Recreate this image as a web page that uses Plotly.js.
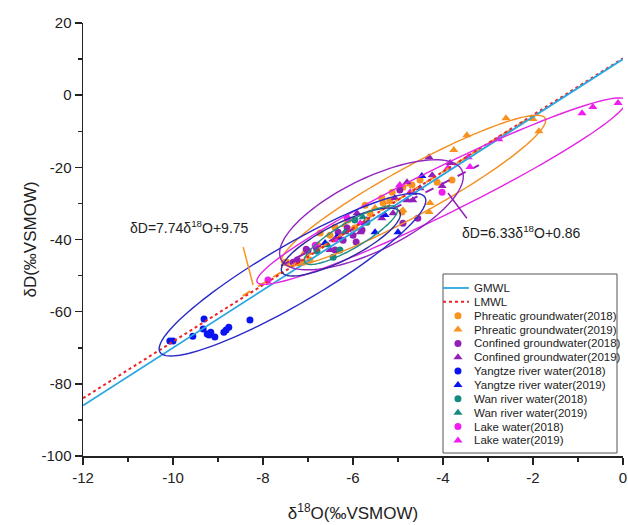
<!DOCTYPE html>
<html><head><meta charset="utf-8">
<script src="https://cdn.plot.ly/plotly-3.0.1.min.js"></script>
<style>html,body{margin:0;padding:0;background:#fff}#chart{width:628px;height:525px}</style>
</head><body><div id="chart"></div>
<script>
// ---- data (δ18O, δD in ‰ VSMOW) ----
const phreatic2018X = [-7.51,-7.47,-7.2,-7.11,-6.96,-6.78,-6.73,-6.51,-6.4,-6.11,-5.96,-5.73,-5.62,-5.36,-5.33,-5.18,-5.13,-4.96,-4.91,-4.89,-4.69,-4.51,-4.13,-3.8];
const phreatic2018Y = [-46.3,-46.3,-46.5,-46.3,-45.7,-41.6,-38.2,-38.8,-36.6,-34.6,-36.8,-30.5,-32.7,-28.5,-29.9,-29.1,-26.9,-25.5,-32.4,-25.5,-24.9,-23.5,-24.1,-23.5];
const phreatic2019X = [-2.6,-3.47,-2.0,-1.87,-3.76,-4.29,-4.31,-4.89,-4.73,-5.18,-7.07,-6.18,-5.51];
const phreatic2019Y = [-6.4,-11.1,-6.6,-10.0,-15.2,-29.9,-32.4,-31.9,-24.7,-29.6,-43.5,-36.0,-31.3];
const confined2018X = [-7.33,-7.24,-7.04,-7.0,-6.4,-6.22,-6.33,-6.0,-5.93,-5.8,-4.89,-4.56,-4.96,-6.13];
const confined2018Y = [-46.3,-45.7,-42.7,-43.2,-42.9,-40.2,-38.0,-38.8,-40.7,-37.4,-35.5,-34.1,-26.3,-36.8];
const confined2019X = [-6.51,-6.13,-5.84,-5.36,-5.11,-5.91,-5.07,-4.8,-4.67,-5.69,-4.31,-3.84,-4.24,-4.02,-4.51,-4.67,-4.8,-6.29];
const confined2019Y = [-42.9,-37.4,-38.0,-34.1,-32.7,-32.7,-28.5,-29.1,-29.1,-34.6,-17.2,-18.8,-22.2,-25.2,-25.8,-27.1,-24.1,-39.6];
const yangtze2018X = [-10.07,-10.0,-9.31,-9.33,-9.56,-9.24,-9.16,-9.2,-9.07,-8.87,-8.82,-8.76,-8.29];
const yangtze2018Y = [-68.1,-68.1,-62.0,-64.8,-66.8,-66.2,-65.7,-66.5,-67.0,-65.7,-65.1,-64.3,-62.3];
const yangtze2019X = [-6.62,-6.36,-5.51,-5.29,-5.0,-4.47];
const yangtze2019Y = [-41.0,-39.3,-38.0,-33.2,-38.0,-22.4];
const wan2018X = [-6.8,-6.44,-6.29,-5.96,-5.69];
const wan2018Y = [-43.2,-44.9,-42.9,-34.6,-35.2];
const wan2019X = [-6.56,-5.78,-6.18];
const wan2019Y = [-41.6,-33.8,-38.0];
const lake2018X = [-7.89,-4.02,-6.13,-6.84];
const lake2018Y = [-51.2,-26.9,-34.1,-41.6];
const lake2019X = [-0.91,-0.67,-0.11,-2.76,-3.44,-3.4,-3.89,-4.73,-5.84,-4.96,-6.4];
const lake2019Y = [-5.0,-3.3,-2.2,-12.2,-17.2,-19.9,-20.2,-26.9,-35.5,-24.9,-40.2];

// water lines (end points)
const lineX = [-12, 0];
const gmwlY = [-86, 10];
const lmwlY = [-84, 10.2];
const phreaticFitX = [-8.45, -2.0];
const phreaticFitY = [-55.65, -5.73];
const confinedFitX = [-7.6, -3.2];
const confinedFitY = [-47.25, -19.4];

// tick labels
const xTickVals = [-12,-10,-8,-6,-4,-2,0];
const xTickText = ["-12","-10","-8","-6","-4","-2","0"];
const yTickVals = [-100,-80,-60,-40,-20,0,20];
const yTickText = ["-100","-80","-60","-40","-20","0","20"];

const seriesNames = ["Phreatic groundwater(2018)","Phreatic groundwater(2019)","Confined groundwater(2018)","Confined groundwater(2019)","Yangtze river water(2018)","Yangtze river water(2019)","Wan river water(2018)","Wan river water(2019)","Lake water(2018)","Lake water(2019)"];
const lineNames = ["GMWL","LMWL"];

// ellipses: left tip (x,y), right tip (x,y) in data units; half width in px
const ellipseL = [[-7.58,-46.5],[-8.13,-51.8],[-7.6,-45.5],[-10.29,-71.2],[-7.58,-49.0],[-7.07,-46.3]];
const ellipseR = [[-1.73,-6.4],[0.07,-1.4],[-3.58,-20.8],[-4.4,-28.3],[-4.96,-32.4],[-5.02,-31.3]];
const ellipseB = [24, 23, 36, 29, 18, 13];
const ellipseColor = ["#F39020","#E525E5","#9325C0","#2A2AC8","#2B2BA0","#1E8C84"];

// ---- styling ----
const C = {orange:"#F7931E", purple:"#9220B8", blue:"#0A14F0", teal:"#158A80", magenta:"#F01CF0", gm:"#2AA6E0", lm:"#E8262A"};
const styles = [
  {c:C.orange,s:"circle"},{c:C.orange,s:"triangle-up"},
  {c:C.purple,s:"circle"},{c:C.purple,s:"triangle-up"},
  {c:C.blue,s:"circle"},{c:C.blue,s:"triangle-up"},
  {c:C.teal,s:"circle"},{c:C.teal,s:"triangle-up"},
  {c:C.magenta,s:"circle"},{c:C.magenta,s:"triangle-up"}];
const seriesX = [phreatic2018X,phreatic2019X,confined2018X,confined2019X,yangtze2018X,yangtze2019X,wan2018X,wan2019X,lake2018X,lake2019X];
const seriesY = [phreatic2018Y,phreatic2019Y,confined2018Y,confined2019Y,yangtze2018Y,yangtze2019Y,wan2018Y,wan2019Y,lake2018Y,lake2019Y];

const W=628,H=525, M={l:83,r:5,t:23,b:69};
const pw=W-M.l-M.r, ph=H-M.t-M.b;
const kx = pw/12, ky = ph/120;

function ellipsePath(L,R,b){
  const cx=(L[0]+R[0])/2, cy=(L[1]+R[1])/2;
  const dxp=(R[0]-L[0])*kx/2, dyp=(R[1]-L[1])*ky/2;
  const a=Math.hypot(dxp,dyp); const ux=dxp/a, uy=dyp/a; const vx=-uy, vy=ux;
  let p="";
  for(let i=0;i<=120;i++){
    const t=i/120*2*Math.PI;
    const px=a*Math.cos(t)*ux+b*Math.sin(t)*vx, py=a*Math.cos(t)*uy+b*Math.sin(t)*vy;
    p+=(i?"L":"M")+(cx+px/kx).toFixed(4)+","+(cy+py/ky).toFixed(4);
  }
  return p+"Z";
}

const traces=[];
const shapes=[];
ellipseL.forEach((L,i)=>shapes.push({type:"path",xref:"x",yref:"y",path:ellipsePath(L,ellipseR[i],ellipseB[i]),line:{color:ellipseColor[i],width:1.4},layer:"above"}));

seriesX.forEach((xs,i)=>traces.push({x:xs,y:seriesY[i],type:"scatter",mode:"markers",showlegend:false,hoverinfo:"skip",
  marker:{symbol:styles[i].s,color:styles[i].c,size:styles[i].s==="circle"?7:8,line:{width:0}}}));

traces.push({x:phreaticFitX,y:phreaticFitY,mode:"lines",line:{color:C.orange,width:2,dash:"dash"},showlegend:false,hoverinfo:"skip"});
traces.push({x:confinedFitX,y:confinedFitY,mode:"lines",line:{color:C.purple,width:2,dash:"dash"},showlegend:false,hoverinfo:"skip"});
traces.push({x:lineX,y:lmwlY,mode:"lines",line:{color:C.lm,width:2,dash:"dot"},showlegend:false,hoverinfo:"skip"});
traces.push({x:lineX,y:gmwlY,mode:"lines",line:{color:C.gm,width:1.8},showlegend:false,hoverinfo:"skip"});

// ---- custom legend on overlay axes ----
const legendLabels = lineNames.concat(seriesNames);
traces.push({x:[0,0.149],y:[0,0],xaxis:"x2",yaxis:"y2",mode:"lines",line:{color:C.gm,width:1.8},showlegend:false,hoverinfo:"skip"});
traces.push({x:[0,0.149],y:[1,1],xaxis:"x2",yaxis:"y2",mode:"lines",line:{color:C.lm,width:2,dash:"dot"},showlegend:false,hoverinfo:"skip"});
seriesNames.forEach((n,i)=>traces.push({x:[0.086],y:[i+2],xaxis:"x2",yaxis:"y2",mode:"markers",showlegend:false,hoverinfo:"skip",
  marker:{symbol:styles[i].s,color:styles[i].c,size:styles[i].s==="circle"?7:8}}));

// legend box
shapes.push({type:"rect",xref:"paper",yref:"paper",x0:(443-M.l)/pw,x1:(617-M.l)/pw,y0:(H-M.b-453)/ph,y1:(H-M.b-274)/ph,line:{color:"#555",width:1},fillcolor:"rgba(255,255,255,1)",layer:"below"});
// pointer lines
shapes.push({type:"line",xref:"x",yref:"y",x0:-8.44,y0:-42.1,x1:-8.22,y1:-52.6,line:{color:C.orange,width:1.5}});
shapes.push({type:"line",xref:"x",yref:"y",x0:-3.89,y0:-27.1,x1:-3.47,y1:-34.1,line:{color:C.purple,width:1.5}});

const font={family:"Liberation Sans, Arial, sans-serif",color:"#222"};
const annotations=[
  {x:-11.0,y:-36.6,xref:"x",yref:"y",xanchor:"left",yanchor:"middle",showarrow:false,text:"δD=7.74δ<sup>18</sup>O+9.75",font:{size:14,color:"#222"}},
  {x:-3.62,y:-37.95,xref:"x",yref:"y",xanchor:"left",yanchor:"middle",showarrow:false,text:"δD=6.33δ<sup>18</sup>O+0.86",font:{size:14,color:"#222"}}
];
legendLabels.forEach((t,i)=>annotations.push({xref:"x2",yref:"y2",x:0.165,y:i,xanchor:"left",yanchor:"middle",showarrow:false,text:t,
  font:{size:11.5,color:"#222"}}));

const layout={
  width:W,height:H,margin:M,paper_bgcolor:"#fff",plot_bgcolor:"rgba(0,0,0,0)",showlegend:false,font:font,
  xaxis:{range:[-12,0],tickmode:"array",tickvals:xTickVals,ticktext:xTickText,ticks:"outside",ticklen:7,tickwidth:1.5,tickcolor:"#222",showline:true,linewidth:1.5,linecolor:"#222",
    showgrid:false,zeroline:false,tickfont:{size:15},minor:{dtick:1,ticks:"outside",ticklen:4,tickwidth:1.5,tickcolor:"#222"},
    title:{text:"δ<sup>18</sup>O(‰VSMOW)",font:{size:17},standoff:22}},
  yaxis:{range:[-100,20],tickmode:"array",tickvals:yTickVals,ticktext:yTickText,ticks:"outside",ticklen:7,tickwidth:1.5,tickcolor:"#222",showline:true,linewidth:1.5,linecolor:"#222",
    showgrid:false,zeroline:false,tickfont:{size:15},minor:{dtick:10,tick0:0,ticks:"outside",ticklen:4,tickwidth:1.5,tickcolor:"#222"},
    title:{text:"δD(‰VSMOW)",font:{size:17},standoff:0}},
  xaxis2:{domain:[(443-M.l)/pw,(617-M.l)/pw],range:[0,1],visible:false,anchor:"y2",fixedrange:true},
  yaxis2:{domain:[(H-M.b-453)/ph,(H-M.b-274)/ph],range:[11.91,-1.01],visible:false,anchor:"x2",fixedrange:true},
  shapes:shapes,
  annotations:annotations
};
Plotly.newPlot("chart",traces,layout,{staticPlot:true,displayModeBar:false});
</script></body></html>
